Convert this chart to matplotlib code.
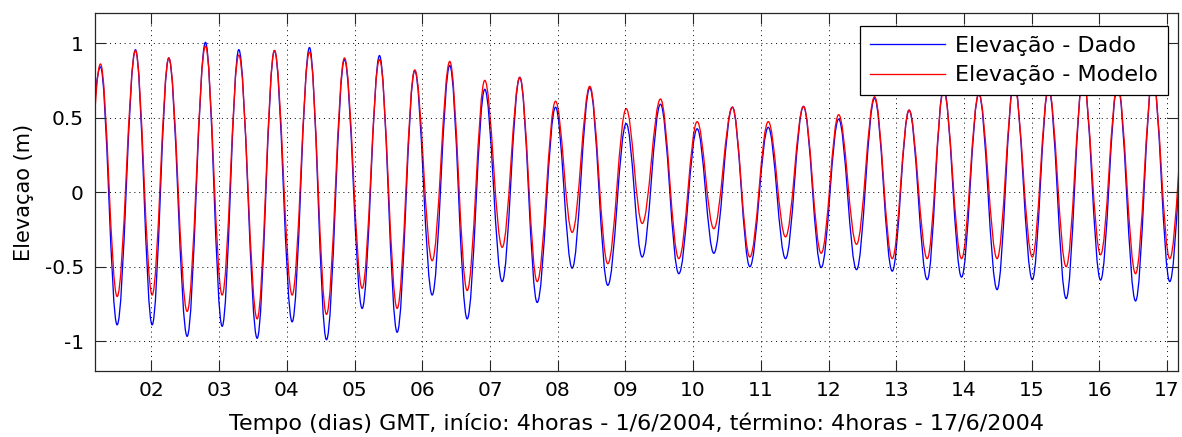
import numpy as np
import matplotlib
matplotlib.use("Agg")
import matplotlib.pyplot as plt
from matplotlib.path import Path
from matplotlib.patches import PathPatch
from matplotlib.lines import Line2D

# Tidal extremes (time in days of June 2004, elevation in m).
# First and last entries lie just outside the plotted window.
t_ext = [0.99, 1.247, 1.493, 1.764, 2.010, 2.256, 2.527, 2.798, 3.044, 3.290,
         3.561, 3.817, 4.078, 4.334, 4.585, 4.851, 5.112, 5.368, 5.629, 5.889,
         6.146, 6.406, 6.663, 6.923, 7.180, 7.440, 7.697, 7.968, 8.214, 8.474,
         8.740, 9.012, 9.248, 9.518, 9.789, 10.060, 10.306, 10.580, 10.838,
         11.110, 11.365, 11.630, 11.892, 12.150, 12.414, 12.680, 12.941, 13.190,
         13.458, 13.700, 13.965, 14.220, 14.490, 14.740, 15.010, 15.250, 15.510,
         15.760, 16.018, 16.270, 16.535, 16.790, 17.040, 17.300]

elev_dado = [-0.10, 0.84, -0.89, 0.955, -0.89, 0.90, -0.967, 1.005, -0.90, 0.956,
             -0.98, 0.95, -0.87, 0.97, -0.99, 0.89, -0.78, 0.916, -0.94, 0.815,
             -0.69, 0.85, -0.85, 0.69, -0.60, 0.77, -0.74, 0.57, -0.51, 0.70,
             -0.625, 0.46, -0.435, 0.59, -0.547, 0.425, -0.41, 0.57, -0.50,
             0.435, -0.446, 0.575, -0.506, 0.49, -0.52, 0.63, -0.53, 0.55,
             -0.587, 0.70, -0.57, 0.66, -0.654, 0.75, -0.587, 0.70, -0.714,
             0.78, -0.59, 0.72, -0.73, 0.78, -0.60, 0.70]

elev_modelo = [-0.45, 0.86, -0.70, 0.95, -0.69, 0.90, -0.80, 0.98, -0.69, 0.92,
               -0.85, 0.95, -0.69, 0.94, -0.82, 0.90, -0.645, 0.89, -0.78, 0.82,
               -0.46, 0.877, -0.66, 0.75, -0.37, 0.77, -0.60, 0.61, -0.27, 0.71,
               -0.48, 0.56, -0.21, 0.625, -0.446, 0.473, -0.245, 0.57, -0.435,
               0.473, -0.30, 0.575, -0.41, 0.52, -0.35, 0.64, -0.446, 0.55,
               -0.446, 0.68, -0.446, 0.66, -0.446, 0.72, -0.435, 0.70, -0.50,
               0.75, -0.42, 0.72, -0.547, 0.76, -0.446, 0.70]

day_ticks = list(range(2, 18))
day_labels = [f"{d:02d}" for d in day_ticks]
elev_ticks = [-1, -0.5, 0, 0.5, 1]
elev_labels = ["-1", "-0.5", "0", "0.5", "1"]

plt.rcParams["font.family"] = ["DejaVu Sans"]


def tide_path(t, y, h=0.364):
    # cubic Bezier between consecutive extremes, horizontal tangents at each extreme
    verts = [(t[0], y[0])]
    codes = [Path.MOVETO]
    for i in range(len(t) - 1):
        dx = t[i + 1] - t[i]
        verts += [(t[i] + h * dx, y[i]), (t[i + 1] - h * dx, y[i + 1]),
                  (t[i + 1], y[i + 1])]
        codes += [Path.CURVE4] * 3
    return Path(verts, codes)


fig = plt.figure(figsize=(11.82, 4.37), dpi=100)
ax = fig.add_axes([0.0804, 0.151, 0.9165, 0.8186])

for vals, col in ((elev_dado, "#0000ff"), (elev_modelo, "#ff0000")):
    ax.add_patch(PathPatch(tide_path(t_ext, vals), facecolor="none",
                           edgecolor=col, linewidth=0.95, transform=ax.transData))

ax.set_xlim(1 + 4 / 24, 17 + 4 / 24)
ax.set_ylim(-1.2, 1.2)
ax.set_xticks(day_ticks)
ax.set_xticklabels(day_labels)
ax.set_yticks(elev_ticks)
ax.set_yticklabels(elev_labels)

ax.grid(True, color="black", linestyle=(0, (1, 4)), linewidth=0.7)
ax.tick_params(direction="in", length=8, width=0.8, top=True, right=True,
               color="#262626", labelsize=14.5)
ax.tick_params(axis="y", pad=8)
ax.tick_params(axis="x", pad=7)
for sp in ax.spines.values():
    sp.set_linewidth(0.9)
    sp.set_color("#262626")

ax.set_xlabel("Tempo (dias) GMT, início: 4horas - 1/6/2004, término: 4horas - 17/6/2004",
              fontsize=16)
ax.set_ylabel("Elevaçao (m)", fontsize=15)
ax.xaxis.set_label_coords(0.5, -0.1146)
ax.yaxis.set_label_coords(-0.0563, 0.5)

handles = [Line2D([], [], color="#0000ff", lw=0.95),
           Line2D([], [], color="#ff0000", lw=0.95)]
leg = ax.legend(handles, ["Elevação - Dado", "Elevação - Modelo"],
                loc="upper right", bbox_to_anchor=(0.9908, 0.9645),
                borderaxespad=0, fontsize=16, fancybox=False, framealpha=1,
                edgecolor="black", handlelength=3.4, handletextpad=0.45,
                labelspacing=0.42, borderpad=0.45)
leg.get_frame().set_linewidth(0.9)

fig.savefig("out.png", dpi=100)
